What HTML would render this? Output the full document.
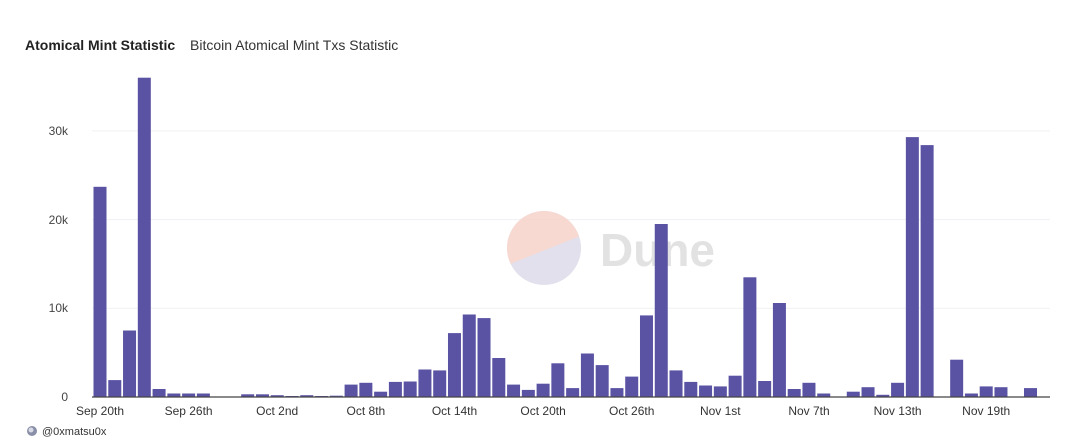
<!DOCTYPE html>
<html><head><meta charset="utf-8"><style>
html,body{margin:0;padding:0;background:#fff;}
svg{display:block;font-family:"Liberation Sans",sans-serif;}
</style></head><body>
<svg width="1068" height="447" viewBox="0 0 1068 447" xmlns="http://www.w3.org/2000/svg">
<rect width="1068" height="447" fill="#fff"/>
<text x="25" y="50" font-size="14" font-weight="bold" fill="#222">Atomical Mint Statistic</text>
<text x="190" y="50" font-size="14" fill="#333">Bitcoin Atomical Mint Txs Statistic</text>
<g stroke="#f1f1f4" stroke-width="1">
<line x1="92" x2="1050" y1="308.3" y2="308.3"/>
<line x1="92" x2="1050" y1="219.6" y2="219.6"/>
<line x1="92" x2="1050" y1="130.9" y2="130.9"/>
</g>
<g font-size="12" fill="#444" text-anchor="end">
<text x="68" y="401">0</text>
<text x="68" y="312">10k</text>
<text x="68" y="224">20k</text>
<text x="68" y="135">30k</text>
</g>
<g opacity="0.85">
<clipPath id="c"><circle cx="544" cy="248" r="37"/></clipPath>
<g clip-path="url(#c)">
<rect x="500" y="200" width="90" height="100" fill="#dcdbe9"/>
<polygon points="500,200 590,200 590,232 500,268" fill="#f7d3c9"/>
</g>
<text x="600" y="266" font-size="46" fill="#dedede" font-weight="bold">Dune</text>
</g>
<g fill="#5a53a3">
<rect x="93.5" y="186.8" width="13" height="210.2"/>
<rect x="108.27" y="380.1" width="13" height="16.9"/>
<rect x="123.04" y="330.5" width="13" height="66.5"/>
<rect x="137.81" y="77.7" width="13" height="319.3"/>
<rect x="152.58" y="389" width="13" height="8"/>
<rect x="167.35" y="393.5" width="13" height="3.5"/>
<rect x="182.12" y="393.5" width="13" height="3.5"/>
<rect x="196.89" y="393.5" width="13" height="3.5"/>
<rect x="241.2" y="394.3" width="13" height="2.7"/>
<rect x="255.97" y="394.3" width="13" height="2.7"/>
<rect x="270.74" y="395.2" width="13" height="1.8"/>
<rect x="285.51" y="396" width="13" height="1"/>
<rect x="300.28" y="395.2" width="13" height="1.8"/>
<rect x="315.05" y="396" width="13" height="1"/>
<rect x="329.82" y="395.7" width="13" height="1.3"/>
<rect x="344.59" y="384.6" width="13" height="12.4"/>
<rect x="359.36" y="382.8" width="13" height="14.2"/>
<rect x="374.13" y="391.7" width="13" height="5.3"/>
<rect x="388.9" y="381.9" width="13" height="15.1"/>
<rect x="403.67" y="381.5" width="13" height="15.5"/>
<rect x="418.44" y="369.5" width="13" height="27.5"/>
<rect x="433.21" y="370.4" width="13" height="26.6"/>
<rect x="447.98" y="333.1" width="13" height="63.9"/>
<rect x="462.75" y="314.5" width="13" height="82.5"/>
<rect x="477.52" y="318.1" width="13" height="78.9"/>
<rect x="492.29" y="358" width="13" height="39"/>
<rect x="507.06" y="384.6" width="13" height="12.4"/>
<rect x="521.83" y="389.9" width="13" height="7.1"/>
<rect x="536.6" y="383.7" width="13" height="13.3"/>
<rect x="551.37" y="363.3" width="13" height="33.7"/>
<rect x="566.14" y="388.1" width="13" height="8.9"/>
<rect x="580.91" y="353.5" width="13" height="43.5"/>
<rect x="595.68" y="365.1" width="13" height="31.9"/>
<rect x="610.45" y="388.1" width="13" height="8.9"/>
<rect x="625.22" y="376.6" width="13" height="20.4"/>
<rect x="639.99" y="315.4" width="13" height="81.6"/>
<rect x="654.76" y="224" width="13" height="173"/>
<rect x="669.53" y="370.4" width="13" height="26.6"/>
<rect x="684.3" y="381.9" width="13" height="15.1"/>
<rect x="699.07" y="385.5" width="13" height="11.5"/>
<rect x="713.84" y="386.4" width="13" height="10.6"/>
<rect x="728.61" y="375.7" width="13" height="21.3"/>
<rect x="743.38" y="277.3" width="13" height="119.7"/>
<rect x="758.15" y="381" width="13" height="16"/>
<rect x="772.92" y="303" width="13" height="94"/>
<rect x="787.69" y="389" width="13" height="8"/>
<rect x="802.46" y="382.8" width="13" height="14.2"/>
<rect x="817.23" y="393.5" width="13" height="3.5"/>
<rect x="846.77" y="391.7" width="13" height="5.3"/>
<rect x="861.54" y="387.2" width="13" height="9.8"/>
<rect x="876.31" y="394.8" width="13" height="2.2"/>
<rect x="891.08" y="382.8" width="13" height="14.2"/>
<rect x="905.85" y="137.1" width="13" height="259.9"/>
<rect x="920.62" y="145.1" width="13" height="251.9"/>
<rect x="950.16" y="359.7" width="13" height="37.3"/>
<rect x="964.93" y="393.5" width="13" height="3.5"/>
<rect x="979.7" y="386.4" width="13" height="10.6"/>
<rect x="994.47" y="387.2" width="13" height="9.8"/>
<rect x="1024.01" y="388.1" width="13" height="8.9"/>
</g>
<line x1="92" x2="1050" y1="397" y2="397" stroke="#444" stroke-width="1.2"/>
<g font-size="12" fill="#333" text-anchor="middle">
<text x="100" y="415">Sep 20th</text>
<text x="188.6" y="415">Sep 26th</text>
<text x="277.2" y="415">Oct 2nd</text>
<text x="365.9" y="415">Oct 8th</text>
<text x="454.5" y="415">Oct 14th</text>
<text x="543.1" y="415">Oct 20th</text>
<text x="631.7" y="415">Oct 26th</text>
<text x="720.3" y="415">Nov 1st</text>
<text x="809" y="415">Nov 7th</text>
<text x="897.6" y="415">Nov 13th</text>
<text x="986.2" y="415">Nov 19th</text>
</g>
<circle cx="32" cy="431" r="5" fill="#8a8fa8"/>
<circle cx="31" cy="430" r="2.5" fill="#d8dae6"/>
<text x="42" y="435" font-size="11" fill="#333">@0xmatsu0x</text>
</svg>
</body></html>
